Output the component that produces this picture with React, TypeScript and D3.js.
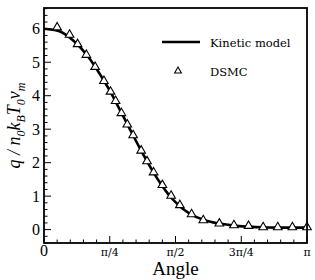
import * as d3 from "d3";
import { useRef, useEffect } from "react";

// Kinetic model curve (angle in degrees, q normalised)
const curveAngles = [0, 10, 20, 30, 40, 45, 50, 55, 60, 65, 70, 75, 80, 85, 90, 95, 100, 110, 120, 130, 140, 150, 160, 170, 180];
const curveValues = [6.0, 5.93, 5.65, 5.18, 4.52, 4.15, 3.74, 3.32, 2.9, 2.48, 2.08, 1.7, 1.36, 1.06, 0.82, 0.62, 0.47, 0.28, 0.18, 0.12, 0.09, 0.07, 0.06, 0.06, 0.06];

// DSMC points
const dsmcAngles = [9, 17.5, 23, 29, 35, 41, 45.5, 49, 53, 57, 61, 66.5, 70.5, 75, 81, 87, 93, 101, 109, 120, 130, 140, 150, 160, 170, 180];
const dsmcValues = [6.04, 5.82, 5.54, 5.22, 4.86, 4.44, 4.12, 3.84, 3.48, 3.14, 2.82, 2.36, 2.04, 1.71, 1.33, 1.01, 0.73, 0.46, 0.28, 0.18, 0.13, 0.11, 0.07, 0.07, 0.07, 0.07];

const xTickValues = [0, 45, 90, 135, 180];
const xTickLabels = ["0", "π/4", "π/2", "3π/4", "π"];
const yTickValues = [0, 1, 2, 3, 4, 5, 6];
const legendLabels = ["Kinetic model", "DSMC"];

export default function App() {
  const chartRef = useRef(null);
  const width = 315;
  const height = 280;
  const margin = { top: 8, right: 8, bottom: 37, left: 44 };

  useEffect(() => {
    const svg = d3.select(chartRef.current);
    svg.selectAll("*").remove();

    const x = d3.scaleLinear().domain([0, 180]).range([margin.left, width - margin.right]);
    const y = d3.scaleLinear().domain([-0.4, 6.62]).range([height - margin.bottom, margin.top]);
    const serif = "Liberation Serif, Times New Roman, serif";
    const cm = "DejaVu Serif, serif";

    // Ticks
    const minorX = d3.range(0, 181, 9);
    const minorY = d3.range(-0.4, 6.61, 0.2);
    const g = svg.append("g").attr("stroke", "#000");

    g.selectAll(".mx")
      .data(minorX)
      .join("line")
      .attr("x1", (d) => x(d))
      .attr("x2", (d) => x(d))
      .attr("y1", y(-0.4))
      .attr("y2", (d) => y(-0.4) - (xTickValues.includes(d) ? 7 : 3.5))
      .attr("stroke-width", 1);

    g.selectAll(".my")
      .data(minorY)
      .join("line")
      .attr("x1", x(0))
      .attr("x2", (d) => x(0) + (Math.abs(d - Math.round(d)) < 0.01 && d > -0.1 ? 7 : 3.5))
      .attr("y1", (d) => y(d))
      .attr("y2", (d) => y(d))
      .attr("stroke-width", 1);

    // Tick labels
    svg
      .selectAll(".xl")
      .data(xTickValues)
      .join("text")
      .attr("x", (d) => x(d))
      .attr("y", height - margin.bottom + 13)
      .attr("text-anchor", "middle")
      .attr("font-family", (d, i) => (i === 0 ? serif : cm))
      .attr("font-size", (d, i) => (i === 0 ? 16 : 11))
      .text((d, i) => xTickLabels[i]);

    svg
      .selectAll(".yl")
      .data(yTickValues)
      .join("text")
      .attr("x", x(0) - 4)
      .attr("y", (d) => y(d) + 5.5)
      .attr("text-anchor", "end")
      .attr("font-family", serif)
      .attr("font-size", 16)
      .text((d) => d);

    // Curve
    const line = d3
      .line()
      .x((d) => x(d[0]))
      .y((d) => y(d[1]))
      .curve(d3.curveMonotoneX);

    svg
      .append("path")
      .datum(curveAngles.map((a, i) => [a, curveValues[i]]))
      .attr("d", line)
      .attr("fill", "none")
      .attr("stroke", "#000")
      .attr("stroke-width", 2.6);

    // Triangles
    const tri = d3.symbol().type(d3.symbolTriangle).size(32);
    svg
      .selectAll(".pt")
      .data(dsmcAngles.map((a, i) => [a, dsmcValues[i]]))
      .join("path")
      .attr("d", tri)
      .attr("transform", (d) => `translate(${x(d[0])},${y(d[1])})`)
      .attr("fill", "#fff")
      .attr("stroke", "#000")
      .attr("stroke-width", 1.1);

    // Frame
    svg
      .append("rect")
      .attr("x", x(0))
      .attr("y", y(6.62))
      .attr("width", x(180) - x(0))
      .attr("height", y(-0.4) - y(6.62))
      .attr("fill", "none")
      .attr("stroke", "#000")
      .attr("stroke-width", 1.8);

    // Legend
    const lg = svg.append("g").attr("font-family", cm).attr("font-size", 11.5);
    lg.append("line")
      .attr("x1", 162)
      .attr("x2", 200)
      .attr("y1", 42)
      .attr("y2", 42)
      .attr("stroke", "#000")
      .attr("stroke-width", 2.6);
    lg.append("text").attr("x", 210).attr("y", 46.5).text(legendLabels[0]);
    lg.append("path")
      .attr("d", d3.symbol().type(d3.symbolTriangle).size(20))
      .attr("transform", "translate(178,71)")
      .attr("fill", "#fff")
      .attr("stroke", "#000")
      .attr("stroke-width", 1.1);
    lg.append("text").attr("x", 210).attr("y", 75.5).text(legendLabels[1]);

    // Axis titles
    svg
      .append("text")
      .attr("x", (x(0) + x(180)) / 2)
      .attr("y", height - 5)
      .attr("text-anchor", "middle")
      .attr("font-family", serif)
      .attr("font-size", 19)
      .text("Angle");

    const yt = svg
      .append("text")
      .attr("transform", `translate(20,${(y(-0.4) + y(6.62)) / 2}) rotate(-90)`)
      .attr("text-anchor", "middle")
      .attr("font-family", serif)
      .attr("font-style", "italic")
      .attr("font-size", 18);
    yt.append("tspan").text("q / n");
    yt.append("tspan").attr("font-size", 12).attr("dy", 5).text("0");
    yt.append("tspan").attr("dy", -5).text("k");
    yt.append("tspan").attr("font-size", 12).attr("dy", 5).text("B");
    yt.append("tspan").attr("dy", -5).text("T");
    yt.append("tspan").attr("font-size", 12).attr("dy", 5).text("0");
    yt.append("tspan").attr("dy", -5).text("v");
    yt.append("tspan").attr("font-size", 12).attr("dy", 5).text("m");
  }, []);

  return (
    <svg
      ref={chartRef}
      width={width}
      height={height}
      style={{ position: "absolute", left: 0, top: 0, background: "#fff" }}
    ></svg>
  );
}
